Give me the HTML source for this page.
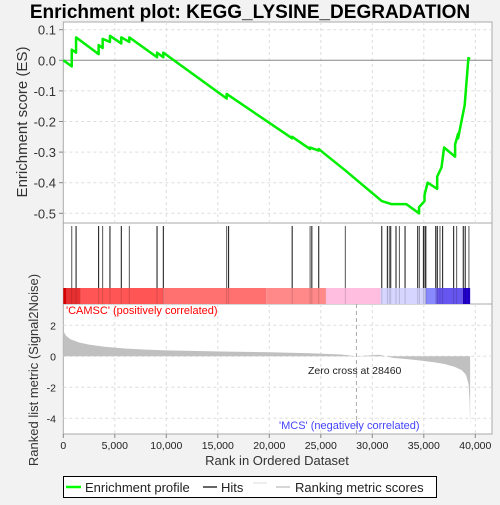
<!DOCTYPE html>
<html><head><meta charset="utf-8"><style>
body{margin:0;background:#f2f2f2;}
svg{font-family:"Liberation Sans","DejaVu Sans",sans-serif;}
</style></head><body>
<svg id="c" width="500" height="500" xmlns="http://www.w3.org/2000/svg">
<text x="250" y="18" text-anchor="middle" font-size="19" font-weight="bold" fill="#000">Enrichment plot: KEGG_LYSINE_DEGRADATION</text>
<rect x="63.3" y="22" width="428.7" height="201" fill="#fff" stroke="#aaa"/>
<rect x="63.3" y="223" width="428.7" height="81" fill="#fff" stroke="#aaa"/>
<rect x="63.3" y="304" width="428.7" height="130" fill="#fff" stroke="#aaa"/>
<g id="grid"></g>
<g id="bar"></g>
<g id="hits"></g>
<g id="metric"></g>
<g id="es"></g>
<g id="axes"></g>
<text x="66" y="314" font-size="11" fill="#f00">'CAMSC' (positively correlated)</text>
<text x="279" y="429" font-size="11" fill="#44f">'MCS' (negatively correlated)</text>
<text x="308" y="374" font-size="10.5" fill="#222">Zero cross at 28460</text>
<text x="27" y="122" font-size="15" fill="#333" text-anchor="middle" transform="rotate(-90 27 122)">Enrichment score (ES)</text>
<text x="38" y="370" font-size="13" fill="#333" text-anchor="middle" transform="rotate(-90 38 370)">Ranked list metric (Signal2Noise)</text>
<text x="277" y="465" font-size="13" fill="#333" text-anchor="middle">Rank in Ordered Dataset</text>
<g>
<rect x="63.5" y="476.5" width="373" height="21" fill="#fff" stroke="#000"/>
<line x1="66" y1="487" x2="81" y2="487" stroke="#0f0" stroke-width="2.5"/>
<text x="85" y="492" font-size="13" fill="#222">Enrichment profile</text>
<line x1="203" y1="487" x2="217" y2="487" stroke="#000" stroke-width="1.2"/>
<text x="221" y="492" font-size="13" fill="#222">Hits</text>
<line x1="253" y1="483" x2="267" y2="483" stroke="#ddd"/>
<line x1="276" y1="487" x2="290" y2="487" stroke="#bbb" stroke-width="1.2"/>
<text x="295" y="492" font-size="13" fill="#222">Ranking metric scores</text>
</g>
</svg>
<script>
const esRanks=[0,820,820,1240,1240,3430,3430,3820,3820,4530,4530,5630,5630,6410,6410,9100,9100,9710,9710,15860,15860,22220,22220,23960,23960,24800,24800,27380,30920,31840,33300,34540,34540,35070,35070,35370,36300,36300,36720,36970,38040,38040,38330,38330,38970,38970,39330,39500];
const esValues=[0,-0.02,0.035,0.025,0.075,0.02,0.05,0.04,0.07,0.06,0.08,0.055,0.075,0.06,0.075,0.01,0.025,0.01,0.025,-0.125,-0.11,-0.255,-0.25,-0.29,-0.285,-0.295,-0.29,-0.36,-0.46,-0.47,-0.47,-0.5,-0.48,-0.46,-0.44,-0.40,-0.42,-0.38,-0.35,-0.285,-0.315,-0.275,-0.24,-0.255,-0.146,-0.146,0.007,0.005];
const hitRanks=[820,1240,3430,3820,4530,5630,6410,9100,9710,15860,16050,22220,23960,24130,24800,27380,30920,31460,31650,31790,32300,32630,33180,34410,34570,34960,35120,35210,36160,36310,36570,36830,37900,38190,38830,39020,39380];
const metricRanks=[0,100,300,700,1500,2500,4000,6000,8000,10000,13000,16000,20000,24000,27000,28460,30700,32000,34000,36000,37000,38000,38700,39100,39350,39450,39500];
const metricValues=[1.8,1.5,1.3,1.1,0.9,0.75,0.62,0.5,0.43,0.38,0.34,0.3,0.26,0.2,0.12,0.0,0.1,-0.1,-0.22,-0.38,-0.5,-0.68,-0.9,-1.2,-1.8,-3.0,-4.6];
const xTicks=[0,5000,10000,15000,20000,25000,30000,35000,40000];
const xTickLabels=["0","5,000","10,000","15,000","20,000","25,000","30,000","35,000","40,000"];
const esTicks=[0.1,0.0,-0.1,-0.2,-0.3,-0.4,-0.5];
const esTickLabels=["0.1","0.0","-0.1","-0.2","-0.3","-0.4","-0.5"];
const metricTicks=[2,0,-2,-4];
const metricTickLabels=["2","0","-2","-4"];
const barColors=["#d40000","#e83030","#ff5555","#ff7070","#ff8888","#ffbde0","#d5d5ff","#8888ff","#6655ee","#2200cc"];
const barStops=[0,300,1700,9700,19700,25500,30800,35200,36200,38800,39500];
const NS="http://www.w3.org/2000/svg";
const X=r=>63.3+r/40000*412;
const YE=v=>60.3-v*306;
const YM=v=>356.3-v*15.5;
function mk(tag,attrs,parent){const e=document.createElementNS(NS,tag);for(const k in attrs)e.setAttribute(k,attrs[k]);document.getElementById(parent).appendChild(e);return e;}
// grid
xTicks.forEach(t=>{if(t===0)return;
 let g1=mk('line',{x1:X(t),x2:X(t),y1:22,y2:223,stroke:'#ddd','stroke-dasharray':'3,3'},'grid');
 
 let g2=mk('line',{x1:X(t),x2:X(t),y1:304,y2:434,stroke:'#ddd','stroke-dasharray':'3,3'},'grid');
 });
esTicks.forEach((t,i)=>{
 let g=mk('line',{x1:63.3,x2:492,y1:YE(t),y2:YE(t),stroke:t===0?'#888':'#ddd','stroke-dasharray':t===0?'':'3,3'},'grid');
 
 let tx=mk('text',{x:56,y:YE(t)+5,'text-anchor':'end','font-size':13,fill:'#333'},'axes');tx.textContent=esTickLabels[i];
 
 mk('line',{x1:59,x2:63.3,y1:YE(t),y2:YE(t),stroke:'#888'},'axes');});
metricTicks.forEach((t,i)=>{
 let g=mk('line',{x1:63.3,x2:492,y1:YM(t),y2:YM(t),stroke:'#ddd','stroke-dasharray':'3,3'},'grid');
 
 let tx=mk('text',{x:56,y:YM(t)+4,'text-anchor':'end','font-size':10.5,fill:'#222'},'axes');tx.textContent=metricTickLabels[i];
 });
xTicks.forEach((t,i)=>{
 let tx=mk('text',{x:X(t),y:449,'text-anchor':'middle','font-size':10.5,fill:'#222'},'axes');tx.textContent=xTickLabels[i];
 
 mk('line',{x1:X(t),x2:X(t),y1:434,y2:438,stroke:'#888'},'axes');});
// color bar
barColors.forEach((c,i)=>{
 let r=mk('rect',{x:X(barStops[i]),y:288,width:X(barStops[i+1])-X(barStops[i]),height:16,fill:c},'bar');
 });
// hits
hitRanks.forEach((h,i)=>{
 let l=mk('line',{x1:X(h),x2:X(h),y1:226,y2:288,stroke:i%3===0?'#555':'#111','stroke-width':1},'hits');
 
 mk('line',{x1:X(h),x2:X(h),y1:288,y2:304,stroke:'rgba(0,0,0,0.15)'},'hits');});
// metric area
let d='M'+X(metricRanks[0])+','+YM(0);
metricRanks.forEach((r,i)=>{d+=' L'+X(r)+','+YM(metricValues[i]);});
d+=' L'+X(metricRanks[metricRanks.length-1])+','+YM(0)+' Z';
let area=mk('path',{d:d,fill:'#c0c0c0',stroke:'none'},'metric');

let zc=mk('line',{x1:X(28460),x2:X(28460),y1:304,y2:434,stroke:'#aaa','stroke-dasharray':'4,3'},'metric');

// ES
let pts=esRanks.map((r,i)=>X(r)+','+YE(esValues[i])).join(' ');
let es=mk('polyline',{points:pts,fill:'none',stroke:'#00ee00','stroke-width':2.5,'stroke-linejoin':'round'},'es');

</script>
</body></html>
